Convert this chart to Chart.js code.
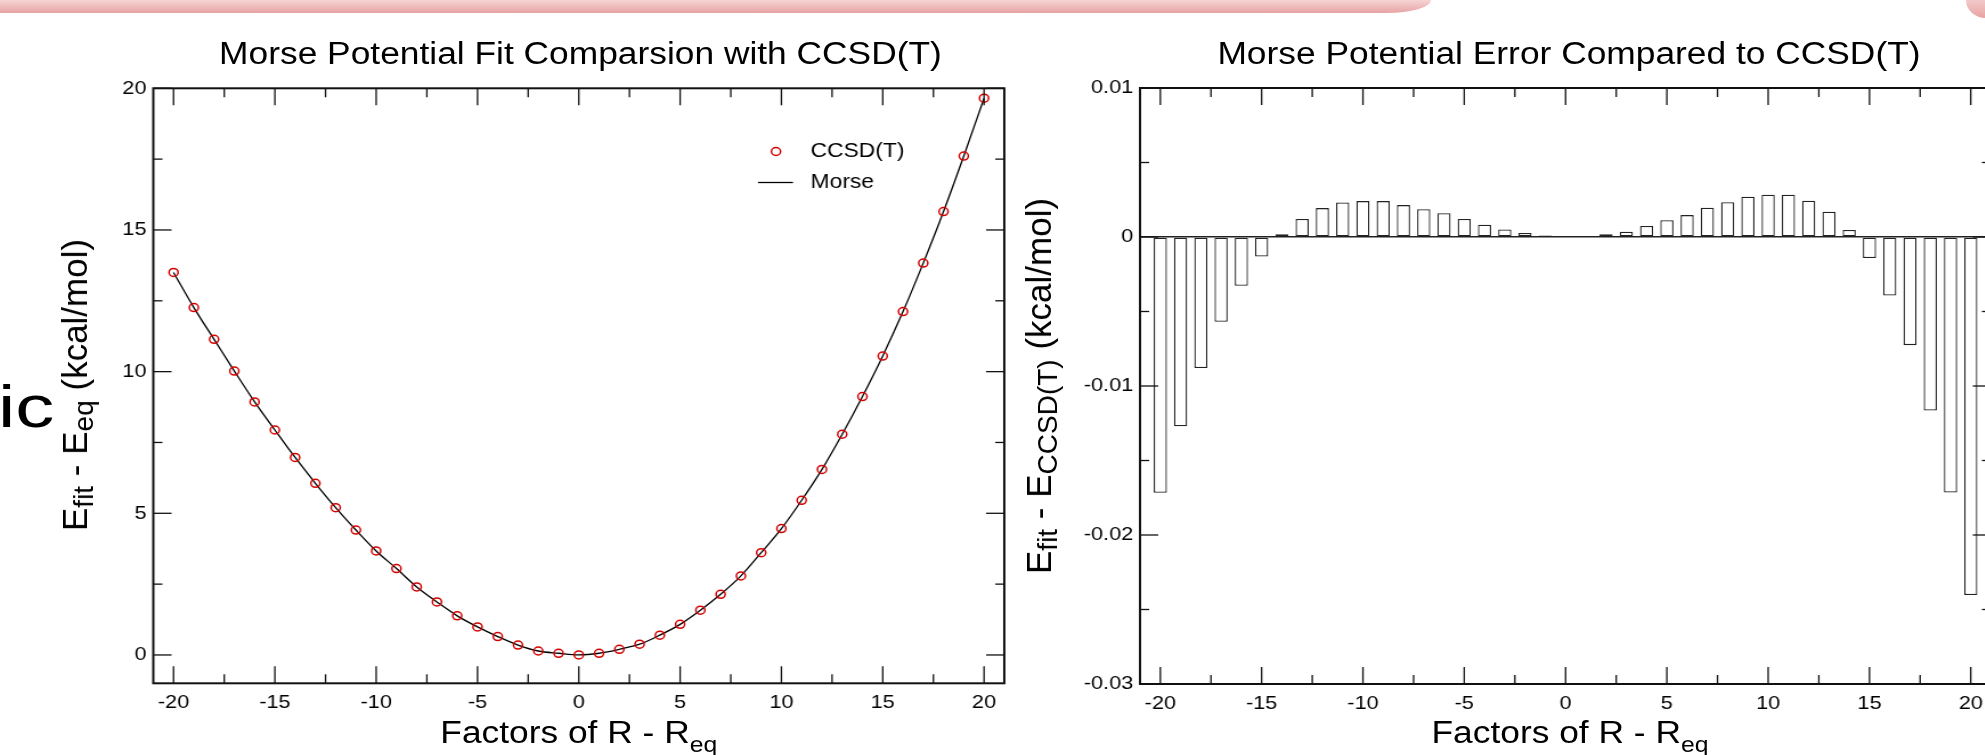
<!DOCTYPE html>
<html>
<head>
<meta charset="utf-8">
<script src="https://cdn.jsdelivr.net/npm/chart.js@4.4.1/dist/chart.umd.min.js"></script>
<style>
  html, body { margin:0; padding:0; background:#fff; overflow:hidden; width:1985px; height:755px; }
  body { position:relative; font-family:"Liberation Sans", Arial, Helvetica, sans-serif; color:#000; }
  #topbar { position:absolute; left:0; top:0; width:1431px; height:13px;
            background:linear-gradient(#f6d4d4, #e7a3a3); border-bottom-right-radius:44px 13px; }
  #topbar2 { position:absolute; left:1966px; top:0; width:40px; height:18px;
            background:linear-gradient(#f3c9c9, #e7a3a3); border-bottom-left-radius:20px 18px; }
  #slidetext { position:absolute; left:-2px; top:377px; font-size:60px; line-height:60px;
            transform:scaleX(1.3); transform-origin:0 0; white-space:nowrap; }
  #stage { position:absolute; left:0; top:0; width:1800px; height:755px;
           transform:scaleX(1.14); transform-origin:0 0; }
  #c1 { position:absolute; left:0; top:0; }
  #c2 { position:absolute; left:885.96px; top:0; }
  .ctitle { position:absolute; width:1000px; text-align:center; font-size:31px; line-height:31px; white-space:nowrap; }
  .xtitle { position:absolute; width:1000px; text-align:center; font-size:31px; line-height:31px; white-space:nowrap; }
  .xtitle sub { font-size:0.7em; vertical-align:baseline; position:relative; top:0.44em; }
  .ytitle { position:absolute; font-size:35px; line-height:35px; white-space:nowrap;
            transform:translate(-50%,-50%) rotate(-90deg); }
  .ytitle sub { font-size:0.8em; vertical-align:baseline; position:relative; top:0.22em; }
</style>
</head>
<body>
<div id="topbar"></div>
<div id="topbar2"></div>
<div id="slidetext">ic</div>

<div id="stage">
  <canvas id="c1" width="900" height="755"></canvas>
  <canvas id="c2" width="880" height="755"></canvas>
  <div class="ctitle" style="left:9.2px; top:38.1px;">Morse Potential Fit Comparsion with CCSD(T)</div>
  <div class="ctitle" style="left:876.3px; top:38.1px;">Morse Potential Error Compared to CCSD(T)</div>
  <div class="xtitle" style="left:7.7px; top:716.5px;">Factors of R - R<sub>eq</sub></div>
  <div class="xtitle" style="left:877.2px; top:716.5px;">Factors of R - R<sub>eq</sub></div>
</div>

<div class="ytitle" style="left:76px; top:384.5px;">E<sub>fit</sub> - E<sub>eq</sub> (kcal/mol)</div>
<div class="ytitle" style="left:1040px; top:385.5px;">E<sub>fit</sub> - E<sub>CCSD(T)</sub> (kcal/mol)</div>

<script>
// ---------------- data ----------------
const factors = [-20,-19,-18,-17,-16,-15,-14,-13,-12,-11,-10,-9,-8,-7,-6,-5,-4,-3,-2,-1,
                 0,1,2,3,4,5,6,7,8,9,10,11,12,13,14,15,16,17,18,19,20];

const ccsdEnergy = [13.50,12.26,11.14,10.02,8.93,7.94,6.97,6.06,5.20,4.41,
                    3.67,3.05,2.40,1.87,1.38,0.99,0.65,0.35,0.14,0.06,
                    0.00,
                    0.06,0.20,0.38,0.70,1.08,1.58,2.14,2.79,3.61,4.46,
                    5.46,6.55,7.79,9.12,10.55,12.12,13.83,15.65,17.61,19.65];

const morseEnergy = [13.50,12.26,11.14,10.02,8.93,7.94,6.97,6.06,5.20,4.41,
                     3.67,3.05,2.40,1.87,1.38,0.99,0.65,0.35,0.14,0.06,
                     0.00,
                     0.06,0.20,0.38,0.70,1.08,1.58,2.14,2.79,3.61,4.46,
                     5.46,6.55,7.79,9.12,10.55,12.12,13.83,15.65,17.61,19.65];

const morseError = [-0.01717,-0.01270,-0.00880,-0.00569,-0.00328,-0.00131,0.00018,0.00121,0.00194,0.00232,
                    0.00241,0.00241,0.00214,0.00186,0.00159,0.00121,0.00083,0.00050,0.00027,0.00010,
                    0.00000,
                    0.00000,0.00018,0.00036,0.00074,0.00112,0.00147,0.00196,0.00234,0.00270,0.00284,
                    0.00284,0.00244,0.00170,0.00047,-0.00141,-0.00393,-0.00726,-0.01164,-0.01715,-0.02403];

const xMajorTicks = [-20,-15,-10,-5,0,5,10,15,20];
const xMinorTicks = [-17.5,-12.5,-7.5,-2.5,2.5,7.5,12.5,17.5];
const xTickLabels = ['-20','-15','-10','-5','0','5','10','15','20'];

const energyMajorTicks = [0,5,10,15,20];
const energyMinorTicks = [2.5,7.5,12.5,17.5];
const energyTickLabels = ['0','5','10','15','20'];

const errorMajorTicks = [-0.03,-0.02,-0.01,0,0.01];
const errorMinorTicks = [-0.025,-0.015,-0.005,0.005];
const errorTickLabels = ['-0.03','-0.02','-0.01','0','0.01'];

const seriesNames = ['CCSD(T)', 'Morse'];

// ---------------- layout (screen px) ----------------
const S = 1.14;
const LEFT = { left:153.3, right:1004.3, top:88.3, bottom:683.3, canvasX:0, canvasW:900 };
const RIGHT = { left:1140, right:1991, top:88, bottom:684, canvasX:1010, canvasW:880 };
const FONT = '"Liberation Sans", Arial, Helvetica, sans-serif';
Chart.defaults.font.family = FONT;
Chart.defaults.color = '#000';

function pads(B) {
  return {
    yWidth: (B.left - B.canvasX) / S,
    right: B.canvasW - (B.right - B.canvasX) / S,
    top: B.top,
    xHeight: 40,
    bottom: 755 - B.bottom - 40
  };
}

const frameTicks = {
  id: 'frameTicks',
  afterDraw(chart, args, o) {
    const { ctx, chartArea: a } = chart;
    const x = chart.scales.x, y = chart.scales.y;
    ctx.save();
    ctx.strokeStyle = '#111111';
    const seg = (x1, y1, x2, y2) => { ctx.beginPath(); ctx.moveTo(x1, y1); ctx.lineTo(x2, y2); ctx.stroke(); };
    ctx.lineWidth = 1.3;
    const xt = (v, len) => { const p = x.getPixelForValue(v); seg(p, a.bottom, p, a.bottom - len); seg(p, a.top, p, a.top + len); };
    const yt = (v, len) => { const p = y.getPixelForValue(v); seg(a.left, p, a.left + len, p); seg(a.right, p, a.right - len, p); };
    o.xMajor.forEach(v => xt(v, 17));
    o.xMinor.forEach(v => xt(v, 9));
    o.yMajor.forEach(v => yt(v, 16));
    o.yMinor.forEach(v => yt(v, 8));
    ctx.lineWidth = 2;
    ctx.strokeRect(a.left, a.top, a.right - a.left, a.bottom - a.top);
    ctx.restore();
  }
};

const legendBox = {
  id: 'legendBox',
  afterDraw(chart, args, o) {
    if (!o.show) return;
    const ctx = chart.ctx;
    const ds = chart.data.datasets;
    ctx.save();
    ctx.strokeStyle = ds[0].borderColor;
    ctx.lineWidth = ds[0].borderWidth;
    ctx.beginPath();
    ctx.arc(o.markerX, o.row1, ds[0].pointRadius, 0, Math.PI * 2);
    ctx.stroke();
    ctx.strokeStyle = ds[1].borderColor;
    ctx.lineWidth = ds[1].borderWidth;
    ctx.beginPath(); ctx.moveTo(o.lineX1, o.row2); ctx.lineTo(o.lineX2, o.row2); ctx.stroke();
    ctx.fillStyle = '#000';
    ctx.font = '20px ' + FONT;
    ctx.textBaseline = 'middle';
    ctx.textAlign = 'left';
    ctx.fillText(ds[0].label, o.textX, o.row1);
    ctx.fillText(ds[1].label, o.textX, o.row2);
    ctx.restore();
  }
};

function xScale(P) {
  return {
    type: 'linear', min: -21, max: 21, offset: false,
    afterBuildTicks: s => { s.ticks = xMajorTicks.map(v => ({ value: v })); },
    afterFit: s => { s.height = P.xHeight; },
    grid: { display: false, drawTicks: false, offset: false },
    border: { display: false },
    ticks: { font: { size: 19 }, color: '#000', padding: 8, maxRotation: 0, autoSkip: false,
             callback: (v, i) => xTickLabels[i] }
  };
}

// ---------------- left chart ----------------
const P1 = pads(LEFT);
new Chart(document.getElementById('c1'), {
  type: 'scatter',
  data: {
    datasets: [
      { label: seriesNames[0], data: factors.map((f, i) => ({ x: f, y: ccsdEnergy[i] })),
        showLine: false, pointStyle: 'circle', pointRadius: 4, pointBorderWidth: 1.5,
        borderWidth: 1.5, borderColor: '#d40000', pointBorderColor: '#d40000',
        backgroundColor: 'rgba(0,0,0,0)', pointBackgroundColor: 'rgba(0,0,0,0)' },
      { label: seriesNames[1], data: factors.map((f, i) => ({ x: f, y: morseEnergy[i] })),
        showLine: true, pointRadius: 0, borderColor: '#000', borderWidth: 1.3,
        tension: 0.4, cubicInterpolationMode: 'monotone', fill: false }
    ]
  },
  options: {
    responsive: false, animation: false, devicePixelRatio: 1,
    layout: { padding: { left: 0, right: P1.right, top: P1.top, bottom: P1.bottom } },
    plugins: {
      legend: { display: false }, title: { display: false }, tooltip: { enabled: false },
      frameTicks: { xMajor: xMajorTicks, xMinor: xMinorTicks, yMajor: energyMajorTicks, yMinor: energyMinorTicks },
      legendBox: { show: true, markerX: 680.7, lineX1: 664.9, lineX2: 695.6, textX: 711.1, row1: 151.5, row2: 182.5 }
    },
    scales: {
      x: xScale(P1),
      y: {
        type: 'linear', min: -1, max: 20,
        afterBuildTicks: s => { s.ticks = energyMajorTicks.map(v => ({ value: v })); },
        afterFit: s => { s.width = P1.yWidth; },
        grid: { display: false, drawTicks: false },
        border: { display: false },
        ticks: { font: { size: 19 }, color: '#000', padding: 6, callback: (v, i) => energyTickLabels[i] }
      }
    }
  },
  plugins: [frameTicks, legendBox]
});

// ---------------- right chart ----------------
const P2 = pads(RIGHT);
new Chart(document.getElementById('c2'), {
  type: 'bar',
  data: {
    datasets: [
      { label: 'Morse - CCSD(T)', data: factors.map((f, i) => ({ x: f, y: morseError[i] })),
        backgroundColor: '#ffffff', borderColor: '#222222', borderWidth: 1.3, borderSkipped: false,
        barPercentage: 0.65, categoryPercentage: 1.0 }
    ]
  },
  options: {
    responsive: false, animation: false, devicePixelRatio: 1,
    layout: { padding: { left: 0, right: P2.right, top: P2.top, bottom: P2.bottom } },
    plugins: {
      legend: { display: false }, title: { display: false }, tooltip: { enabled: false },
      frameTicks: { xMajor: xMajorTicks, xMinor: xMinorTicks, yMajor: errorMajorTicks, yMinor: errorMinorTicks },
      legendBox: { show: false }
    },
    scales: {
      x: xScale(P2),
      y: {
        type: 'linear', min: -0.03, max: 0.01,
        afterBuildTicks: s => { s.ticks = errorMajorTicks.map(v => ({ value: v })); },
        afterFit: s => { s.width = P2.yWidth; },
        grid: { display: true, drawTicks: false, lineWidth: 1.6,
                color: c => (c.tick && c.tick.value === 0) ? '#222222' : 'rgba(0,0,0,0)' },
        border: { display: false },
        ticks: { font: { size: 19 }, color: '#000', padding: 6, callback: (v, i) => errorTickLabels[i] }
      }
    }
  },
  plugins: [frameTicks, legendBox]
});
</script>
</body>
</html>
